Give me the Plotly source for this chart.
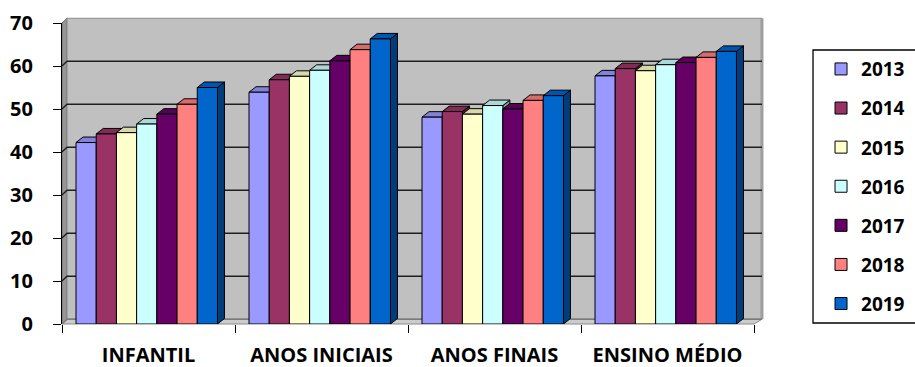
import plotly.graph_objects as go

# ---- data -------------------------------------------------------------
categories = ["INFANTIL", "ANOS INICIAIS", "ANOS FINAIS", "ENSINO MÉDIO"]
years = ["2013", "2014", "2015", "2016", "2017", "2018", "2019"]

v2013 = [42.2, 53.9, 48.1, 57.7]
v2014 = [44.2, 56.8, 49.4, 59.4]
v2015 = [44.5, 57.6, 48.8, 58.9]
v2016 = [46.5, 59.0, 50.8, 60.3]
v2017 = [48.8, 61.2, 50.0, 60.8]
v2018 = [51.1, 63.8, 52.0, 62.0]
v2019 = [55.0, 66.3, 53.1, 63.4]
series = [v2013, v2014, v2015, v2016, v2017, v2018, v2019]

y_ticks = [0, 10, 20, 30, 40, 50, 60, 70]

# ---- style ------------------------------------------------------------
colors = ["#9999FF", "#993366", "#FFFFCC", "#CCFFFF", "#660066", "#FF8080", "#0066CC"]
FONT = "Open Sans"

# ---- 3D-look geometry (axis units) --------------------------------------
Y_MAX = 70.0
X_LEFT, X_RIGHT = -0.5, 3.5636
BAR_W = 0.1168                 # width of one column
GROUP_START = -0.419           # left edge of first column relative to category
DX, DY = 0.0405, 1.28          # column depth offset
WALL_DX, WALL_DY = 0.029, 1.1  # back wall offset
WALL_RIGHT = 3.546
N_CAT = len(categories)


def shade(hex_color, f):
    h = hex_color.lstrip("#")
    r, g, b = (int(h[i:i + 2], 16) for i in (0, 2, 4))
    return "#{:02x}{:02x}{:02x}".format(int(r * f), int(g * f), int(b * f))


def p(v):
    """value -> paper y (y axis spans 0..Y_MAX over the full domain)"""
    return v / Y_MAX


def poly(pts):
    return "M " + " L ".join(f"{x:.5f},{y:.5f}" for x, y in pts) + " Z"


shapes = []

# left side wall
shapes.append(dict(
    type="path", xref="x", yref="paper", layer="below",
    path=poly([(X_LEFT, p(0)), (X_LEFT, p(Y_MAX)),
               (X_LEFT + WALL_DX, p(Y_MAX + WALL_DY)), (X_LEFT + WALL_DX, p(WALL_DY))]),
    fillcolor="#969696", line=dict(color="#6e6e6e", width=1)))

# back wall
shapes.append(dict(
    type="rect", xref="x", yref="paper", layer="below",
    x0=X_LEFT + WALL_DX, x1=WALL_RIGHT, y0=p(WALL_DY), y1=p(Y_MAX + WALL_DY),
    fillcolor="#C0C0C0", line=dict(color="#8a8a8a", width=1)))
shapes.append(dict(
    type="line", xref="x", yref="paper", layer="below",
    x0=WALL_RIGHT, x1=WALL_RIGHT, y0=p(WALL_DY), y1=p(Y_MAX + WALL_DY),
    line=dict(color="#9e9e9e", width=3)))

# floor
shapes.append(dict(
    type="path", xref="x", yref="paper", layer="below",
    path=poly([(X_LEFT, p(0)), (N_CAT - 0.5, p(0)),
               (WALL_RIGHT, p(WALL_DY)), (X_LEFT + WALL_DX, p(WALL_DY))]),
    fillcolor="#cccccc", line=dict(color="#8a8a8a", width=1)))

# gridlines on the back wall with their short slanted lead-in on the side wall
for t in y_ticks[:-1]:
    shapes.append(dict(
        type="path", xref="x", yref="paper", layer="below",
        path=f"M {X_LEFT:.5f},{p(t):.5f} L {X_LEFT + WALL_DX:.5f},{p(t + WALL_DY):.5f} "
             f"L {WALL_RIGHT:.5f},{p(t + WALL_DY):.5f}",
        line=dict(color="#1e1e1e" if t > 0 else "#7a7a7a", width=1.3)))

# side and top faces of each column, painted left to right
for c in range(N_CAT):
    for i, vals in enumerate(series):
        v = vals[c]
        x0 = c + GROUP_START + i * BAR_W
        x1 = x0 + BAR_W
        shapes.append(dict(
            type="path", xref="x", yref="y", layer="below",
            path=poly([(x1, 0), (x1, v), (x1 + DX, v + DY), (x1 + DX, DY)]),
            fillcolor=shade(colors[i], 0.6), line=dict(color="#000000", width=1)))
        shapes.append(dict(
            type="path", xref="x", yref="y", layer="below",
            path=poly([(x0, v), (x1, v), (x1 + DX, v + DY), (x0 + DX, v + DY)]),
            fillcolor=shade(colors[i], 0.85), line=dict(color="#000000", width=1)))

# legend frame
shapes.append(dict(
    type="rect", xref="paper", yref="paper",
    x0=1.0683, x1=1.2148, y0=0.0033, y1=0.9103,
    fillcolor="rgba(0,0,0,0)", line=dict(color="#000000", width=1.3)))

# ---- figure -----------------------------------------------------------
fig = go.Figure()
x_pos = list(range(N_CAT))
for i, (year, vals) in enumerate(zip(years, series)):
    fig.add_trace(go.Bar(
        x=x_pos, y=vals, name=year, legendgroup=year,
        width=BAR_W, offset=GROUP_START + i * BAR_W,
        marker=dict(color=colors[i], line=dict(color="#000000", width=1)),
    ))

fig.update_layout(
    width=915, height=367,
    margin=dict(l=62, r=150, t=23, b=43, autoexpand=False),
    paper_bgcolor="white", plot_bgcolor="white",
    barmode="overlay",
    font=dict(family=FONT, size=20, color="#000000", weight="bold"),
    shapes=shapes,
    showlegend=True,
    legend=dict(
        x=1.0797, xanchor="left", y=0.91, yanchor="top",
        font=dict(family=FONT, size=19, color="#000000", weight="bold"),
        bgcolor="rgba(0,0,0,0)", borderwidth=0,
        tracegroupgap=11.4, traceorder="grouped",
    ),
    xaxis=dict(
        range=[X_LEFT, X_RIGHT], tickmode="array", tickvals=x_pos, ticktext=categories,
        ticks="", showgrid=False, zeroline=False, showline=False, automargin=False,
        tickfont=dict(family=FONT, size=20, color="#000000", weight="bold"),
        ticklabelstandoff=17,
        minor=dict(ticks="outside", tickmode="linear", tick0=-0.5, dtick=1,
                   ticklen=8, tickwidth=1.3, tickcolor="#000000", showgrid=False),
    ),
    yaxis=dict(
        range=[0, Y_MAX], tickmode="array", tickvals=y_ticks,
        ticks="outside", ticklen=8, tickwidth=1.3, tickcolor="#000000",
        showline=True, linecolor="#000000", linewidth=1.3,
        showgrid=False, zeroline=False, automargin=False,
        tickfont=dict(family=FONT, size=20, color="#000000", weight="bold"),
        ticklabelstandoff=16,
    ),
)

fig.write_html("out.html")
